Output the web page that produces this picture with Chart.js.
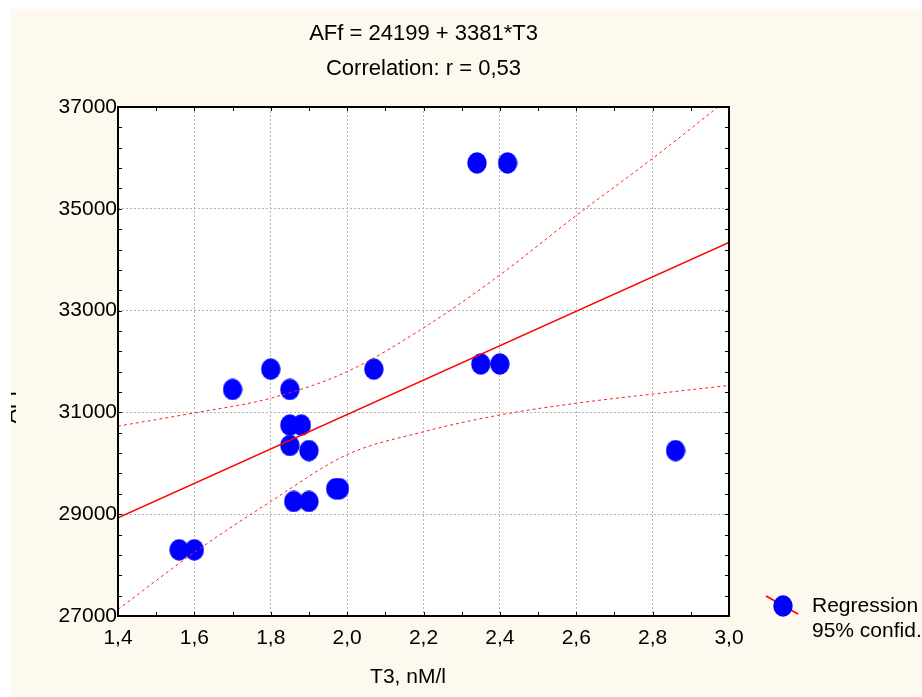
<!DOCTYPE html>
<html>
<head>
<meta charset="utf-8">
<script src="https://cdn.jsdelivr.net/npm/chart.js@4.4.1/dist/chart.umd.min.js"></script>
<style>
  html, body { margin: 0; padding: 0; background: #ffffff; }
  canvas { display: block; }
</style>
</head>
<body>
<canvas id="chart" width="922" height="697"></canvas>
<script>
// Data
const t3 = [1.56, 1.60, 1.70, 1.80, 1.85, 1.85, 1.88, 1.85, 1.90, 1.86, 1.90, 1.97, 1.98, 2.07, 2.34, 2.42, 2.35, 2.40, 2.86];
const aff = [28300, 28300, 31450, 31850, 31450, 30750, 30750, 30350, 30250, 29250, 29250, 29500, 29500, 31850, 35900, 35900, 31950, 31950, 30250];

// Regression line end points and 95% confidence band
const regX = [1.4, 3.0];
const regY = [28930, 34340];
const bandX = [1.4, 1.6, 1.8, 2.0, 2.2, 2.4, 2.6, 2.8, 3.0];
const bandUpper = [30730, 30990, 31280, 31800, 32660, 33700, 34870, 35990, 37170];
const bandLower = [27130, 28250, 29250, 30170, 30620, 30950, 31180, 31360, 31530];

// Axes
const xTicks = [1.4, 1.6, 1.8, 2.0, 2.2, 2.4, 2.6, 2.8, 3.0];
const xTickLabels = ['1,4', '1,6', '1,8', '2,0', '2,2', '2,4', '2,6', '2,8', '3,0'];
const yTicks = [27000, 29000, 31000, 33000, 35000, 37000];
const yTickLabels = ['27000', '29000', '31000', '33000', '35000', '37000'];

const titleLines = ['AFf = 24199 + 3381*T3', 'Correlation: r = 0,53'];
const xTitle = 'T3, nM/l';
const yTitle = 'AFf';
const legendLines = ['Regression', '95% confid.'];

const FONT = "'Liberation Sans', Arial, sans-serif";
const CREAM = '#fdf9ef';

// blue elliptic marker used for the points
function makeDot(w, h) {
    const c = document.createElement('canvas');
    c.width = w;
    c.height = h;
    const g = c.getContext('2d');
    g.fillStyle = '#0000ff';
    g.beginPath();
    g.ellipse(w / 2, h / 2, w / 2 - 0.3, h / 2 - 0.3, 0, 0, Math.PI * 2);
    g.fill();
    return c;
}
const dot = makeDot(20, 22);

const decorations = {
    id: 'decorations',
    beforeDraw(chart) {
        const ctx = chart.ctx;
        const a = chart.chartArea;
        ctx.save();
        ctx.fillStyle = CREAM;
        ctx.fillRect(11, 9, chart.width - 11, chart.height - 9);
        ctx.fillStyle = '#ffffff';
        ctx.fillRect(a.left, a.top, a.right - a.left, a.bottom - a.top);
        ctx.restore();
    },
    afterDatasetsDraw(chart) {
        const ctx = chart.ctx;
        const a = chart.chartArea;
        const xs = chart.scales.x;
        const ys = chart.scales.y;
        ctx.save();
        ctx.strokeStyle = '#000000';
        ctx.lineWidth = 1;
        // inner minor ticks on all four sides
        ctx.beginPath();
        for (let v = 1.4; v <= 3.0001; v += 0.1) {
            const px = Math.round(xs.getPixelForValue(v)) + 0.5;
            ctx.moveTo(px, a.bottom);
            ctx.lineTo(px, a.bottom - 4);
            ctx.moveTo(px, a.top);
            ctx.lineTo(px, a.top + 4);
        }
        for (let v = 27000; v <= 37000; v += 400) {
            const py = Math.round(ys.getPixelForValue(v)) + 0.5;
            ctx.moveTo(a.left, py);
            ctx.lineTo(a.left + 4, py);
            ctx.moveTo(a.right, py);
            ctx.lineTo(a.right - 4, py);
        }
        ctx.stroke();
        ctx.lineWidth = 2;
        ctx.strokeRect(a.left, a.top, a.right - a.left, a.bottom - a.top);
        ctx.restore();
    },
    afterDraw(chart) {
        const ctx = chart.ctx;
        ctx.save();
        ctx.fillStyle = '#000000';
        ctx.font = '21px ' + FONT;
        // x title
        ctx.textAlign = 'center';
        ctx.textBaseline = 'middle';
        ctx.fillText(xTitle, 408, 677);
        // y title, mostly cut off by the white margin
        ctx.beginPath();
        ctx.rect(11, 0, chart.width, chart.height);
        ctx.clip();
        ctx.translate(16, 407);
        ctx.rotate(-Math.PI / 2);
        ctx.textBaseline = 'alphabetic';
        ctx.fillText(yTitle, 0, 0);
        ctx.restore();

        // legend
        ctx.save();
        ctx.strokeStyle = '#ff0000';
        ctx.lineWidth = 1.5;
        ctx.beginPath();
        ctx.moveTo(766, 596);
        ctx.lineTo(798, 614);
        ctx.stroke();
        ctx.drawImage(dot, 783 - 10, 606 - 11);
        ctx.fillStyle = '#000000';
        ctx.font = '21px ' + FONT;
        ctx.textAlign = 'left';
        ctx.textBaseline = 'middle';
        ctx.fillText(legendLines[0], 812, 606);
        ctx.fillText(legendLines[1], 812, 631);
        ctx.restore();
    }
};

const toXY = (xs, ys) => xs.map((x, i) => ({ x: x, y: ys[i] }));

new Chart(document.getElementById('chart'), {
    type: 'scatter',
    data: {
        datasets: [
            {
                label: 'Regression',
                data: toXY(regX, regY),
                showLine: true,
                borderColor: '#ff0000',
                borderWidth: 1.5,
                pointRadius: 0,
                order: 1
            },
            {
                label: '95% upper',
                data: toXY(bandX, bandUpper),
                showLine: true,
                borderColor: '#ff2020',
                borderWidth: 1,
                borderDash: [3, 3],
                cubicInterpolationMode: 'monotone',
                pointRadius: 0,
                order: 1
            },
            {
                label: '95% lower',
                data: toXY(bandX, bandLower),
                showLine: true,
                borderColor: '#ff2020',
                borderWidth: 1,
                borderDash: [3, 3],
                cubicInterpolationMode: 'monotone',
                pointRadius: 0,
                order: 1
            },
            {
                label: 'AFf',
                data: toXY(t3, aff),
                pointStyle: dot,
                pointRadius: 10,
                backgroundColor: '#0000ff',
                order: 2
            }
        ]
    },
    options: {
        responsive: false,
        animation: false,
        devicePixelRatio: 1,
        layout: {
            padding: { left: 0, right: 193, top: 0, bottom: 0 }
        },
        plugins: {
            legend: { display: false },
            tooltip: { enabled: false },
            title: {
                display: true,
                fullSize: false,
                text: titleLines,
                color: '#000000',
                font: { family: FONT, size: 22, weight: 'normal', lineHeight: 35 / 22 },
                padding: { top: 16, bottom: 21 }
            }
        },
        scales: {
            x: {
                type: 'linear',
                min: 1.4,
                max: 3.0,
                afterBuildTicks: scale => { scale.ticks = xTicks.map(v => ({ value: v })); },
                afterFit: scale => { scale.height = 81; },
                ticks: {
                    color: '#000000',
                    padding: 10,
                    maxRotation: 0,
                    autoSkip: false,
                    font: { family: FONT, size: 21 },
                    callback: (value, index) => xTickLabels[index]
                },
                grid: {
                    color: '#b4b4b4',
                    lineWidth: 1,
                    drawTicks: false
                },
                border: { display: false, dash: [2, 2] }
            },
            y: {
                type: 'linear',
                min: 27000,
                max: 37000,
                afterBuildTicks: scale => { scale.ticks = yTicks.map(v => ({ value: v })); },
                afterFit: scale => { scale.width = 118; },
                ticks: {
                    color: '#000000',
                    padding: 1,
                    autoSkip: false,
                    font: { family: FONT, size: 21 },
                    callback: (value, index) => yTickLabels[index]
                },
                grid: {
                    color: '#b4b4b4',
                    lineWidth: 1,
                    drawTicks: false
                },
                border: { display: false, dash: [2, 2] }
            }
        }
    },
    plugins: [decorations]
});
</script>
</body>
</html>
